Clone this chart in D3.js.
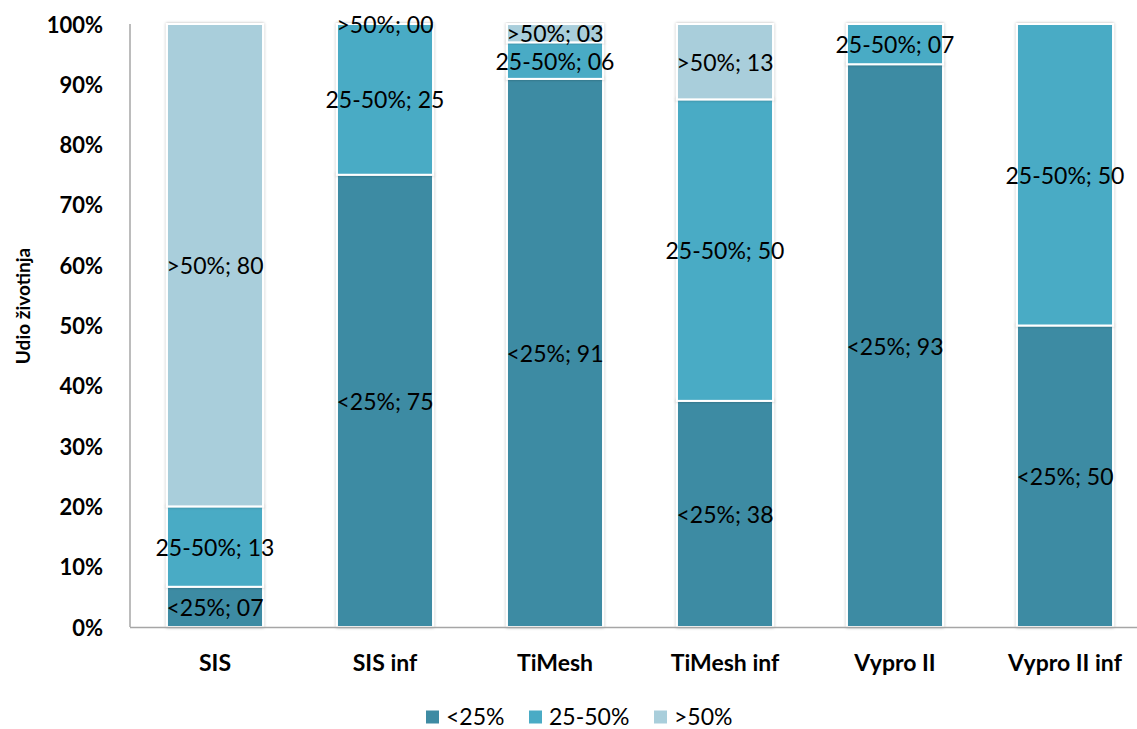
<!DOCTYPE html>
<html><head><meta charset="utf-8">
<script src="https://cdn.jsdelivr.net/npm/d3@7"></script>
<style>body{margin:0;background:#fff}svg{display:block}</style>
</head><body>
<svg id="c" width="1137" height="729"></svg>
<script>
const categories = ["SIS","SIS inf","TiMesh","TiMesh inf","Vypro II","Vypro II inf"];
const seriesNames = ["<25%","25-50%",">50%"];
const lt25 = [6.67, 75, 90.9, 37.5, 93.33, 50];
const mid = [13.33, 25, 6.06, 50, 6.67, 50];
const gt50 = [80, 0, 3.03, 12.5, null, null];
const yTicks = [0,10,20,30,40,50,60,70,80,90,100];
const colors = ["#3e8ba3","#4aabc5","#a9cedb"];
const yTitle = "Udio životinja";

const svg = d3.select("#c");
const font = "Lato, 'Open Sans', sans-serif";
const x = d3.scaleBand().domain(categories).range([130,1150]).paddingInner(0.435).paddingOuter(0.2175);
const y = d3.scaleLinear().domain([0,100]).range([627,24]);

const defs = svg.append("defs");
const f = defs.append("filter").attr("id","sh").attr("x","-10%").attr("y","-10%").attr("width","120%").attr("height","120%");
f.append("feDropShadow").attr("dx",0).attr("dy",0).attr("stdDeviation",1.6).attr("flood-color","#000").attr("flood-opacity",0.3);

svg.append("line").attr("x1",130).attr("x2",130).attr("y1",y(100)).attr("y2",y(0)).attr("stroke","#a6a6a6").attr("stroke-width",1.5);

const data = categories.map((c,i)=>({cat:c, vals:[lt25[i], mid[i], gt50[i]]}));
const segs = [];
data.forEach(d=>{
  let acc=0;
  d.vals.forEach((v,k)=>{
    if(v===null) return;
    segs.push({cat:d.cat, k, v, y0:acc, y1:acc+v});
    acc+=v;
  });
});

const g = svg.append("g");
g.selectAll("rect.bar").data(segs.filter(s=>s.v>0)).join("rect")
  .attr("x",d=>x(d.cat)).attr("width",x.bandwidth())
  .attr("y",d=>y(d.y1)).attr("height",d=>y(d.y0)-y(d.y1))
  .attr("fill",d=>colors[d.k]).attr("stroke","#fff").attr("stroke-width",2)
  .attr("filter","url(#sh)");

svg.append("line").attr("x1",130).attr("x2",1137).attr("y1",y(0)+0.5).attr("y2",y(0)+0.5).attr("stroke","#a6a6a6").attr("stroke-width",1.5);

const pad = v=>String(Math.round(v)).padStart(2,"0");
g.selectAll("text.lbl").data(segs).join("text")
  .attr("x",d=>x(d.cat)+x.bandwidth()/2).attr("y",d=>y((d.y0+d.y1)/2))
  .attr("text-anchor","middle").attr("dominant-baseline","central")
  .attr("font-family",font).attr("font-size",23).attr("fill","#000")
  .text(d=>seriesNames[d.k]+"; "+pad(d.v));

svg.append("g").selectAll("text").data(yTicks).join("text")
  .attr("x",103).attr("y",d=>y(d)).attr("text-anchor","end").attr("dominant-baseline","central")
  .attr("font-family",font).attr("font-weight","bold").attr("font-size",22).text(d=>d+"%");

svg.append("g").selectAll("text").data(categories).join("text")
  .attr("x",d=>x(d)+x.bandwidth()/2).attr("y",662).attr("text-anchor","middle").attr("dominant-baseline","central")
  .attr("font-family",font).attr("font-weight","bold").attr("font-size",23).text(d=>d);

svg.append("text").attr("transform","translate(22,306) rotate(-90)").attr("text-anchor","middle").attr("dominant-baseline","central")
  .attr("font-family",font).attr("font-weight","bold").attr("font-size",19).text(yTitle);

const legX = [426,529,654];
const lg = svg.append("g").selectAll("g").data(seriesNames).join("g").attr("transform",(d,i)=>`translate(${legX[i]},716)`);
lg.append("rect").attr("x",0).attr("y",-5.5).attr("width",13).attr("height",13).attr("fill",(d,i)=>colors[i]);
lg.append("text").attr("x",20).attr("y",9).attr("font-family",font).attr("font-size",23).text(d=>d);
</script>
</body></html>
